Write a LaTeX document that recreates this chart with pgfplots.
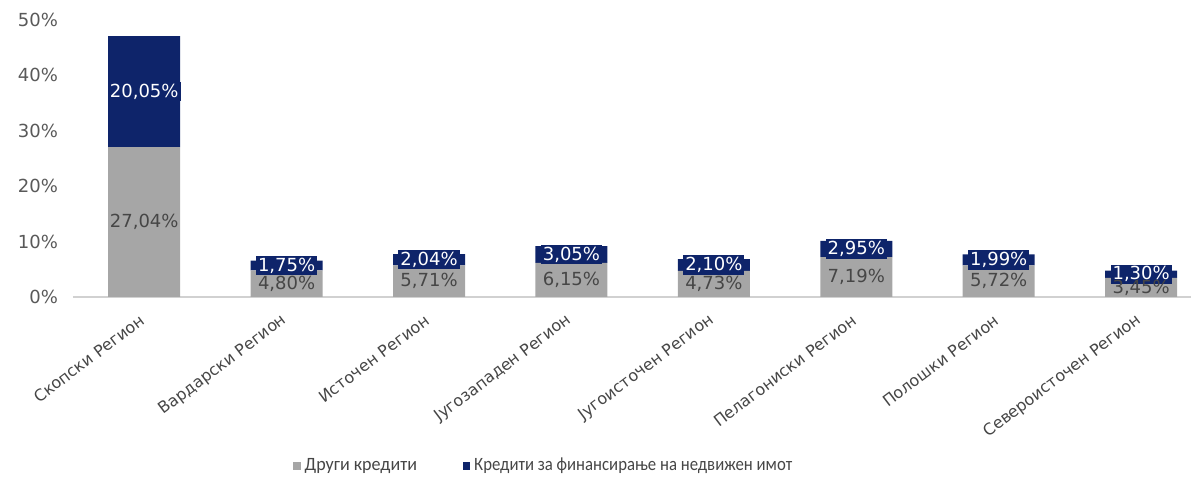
\documentclass[border=0pt]{standalone}
\usepackage{pgfplots}
\pgfplotsset{compat=1.18}
\usepackage{fontspec}
\setmainfont{DejaVu Sans}
\newfontfamily\legfont{Carlito}
\definecolor{othergray}{RGB}{166,166,166}
\definecolor{navy}{RGB}{14,36,106}
\definecolor{labgray}{RGB}{70,70,70}
\definecolor{tickgray}{RGB}{89,89,89}
\begin{document}
\begin{tikzpicture}
\path[use as bounding box] (-36.5pt,-91.5pt) rectangle (559pt,148.5pt);
\begin{axis}[
  at={(0,0)}, anchor=south west,
  scale only axis,
  width=559pt, height=138.5pt,
  ybar stacked,
  bar width=36pt,
  xmin=-0.5, xmax=7.35,
  ymin=0, ymax=50,
  enlargelimits=false,
  axis lines*=left,
  x axis line style={draw=black!18, line width=0.8pt},
  y axis line style={draw=none},
  xtick style={draw=none},
  ytick style={draw=none},
  ytick={0,10,20,30,40,50},
  yticklabel={\pgfmathprintnumber[assume math mode=true]{\tick}\%},
  yticklabel style={font=\fontsize{9}{10}\selectfont, text=tickgray, xshift=-4pt},
  xtick=data,
  xticklabels={Скопски Регион, Вардарски Регион, Источен Регион, Југозападен Регион, Југоисточен Регион, Пелагониски Регион, Полошки Регион, Североисточен Регион},
  xticklabel shift=10pt,
  xticklabel style={font=\fontsize{8}{10}\selectfont, text=labgray, rotate=37, anchor=east, inner sep=1pt},
  point meta=rawy,
  nodes near coords={\pgfmathprintnumber[fixed, fixed zerofill, precision=2, use comma, assume math mode=true]{\pgfplotspointmeta}\%},
  every node near coord/.append style={font=\fontsize{9}{10}\selectfont, anchor=center, inner sep=1pt},
  legend style={at={(0.422,-0.61)}, anchor=center, draw=none, fill=none,
    font=\legfont\fontsize{9.4}{10}\selectfont, text=labgray, legend columns=2,
    /tikz/every even column/.append style={column sep=21pt}},
  legend image code/.code={\fill[#1] (1.5pt,-1.8pt) rectangle (5.1pt,1.8pt);},
]
\addplot[fill=othergray, draw=none, every node near coord/.append style={text=labgray}]
  coordinates {(0,27.04) (1,4.80) (2,5.71) (3,6.15) (4,4.73) (5,7.19) (6,5.72) (7,3.45)};
\addplot[fill=navy, draw=none, every node near coord/.append style={text=white, fill=navy}]
  coordinates {(0,20.05) (1,1.75) (2,2.04) (3,3.05) (4,2.10) (5,2.95) (6,1.99) (7,1.30)};
\legend{\scalebox{0.96}[1]{Други кредити}, \scalebox{0.89}[1]{Кредити за финансирање на недвижен имот}}
\end{axis}
\end{tikzpicture}
\end{document}
